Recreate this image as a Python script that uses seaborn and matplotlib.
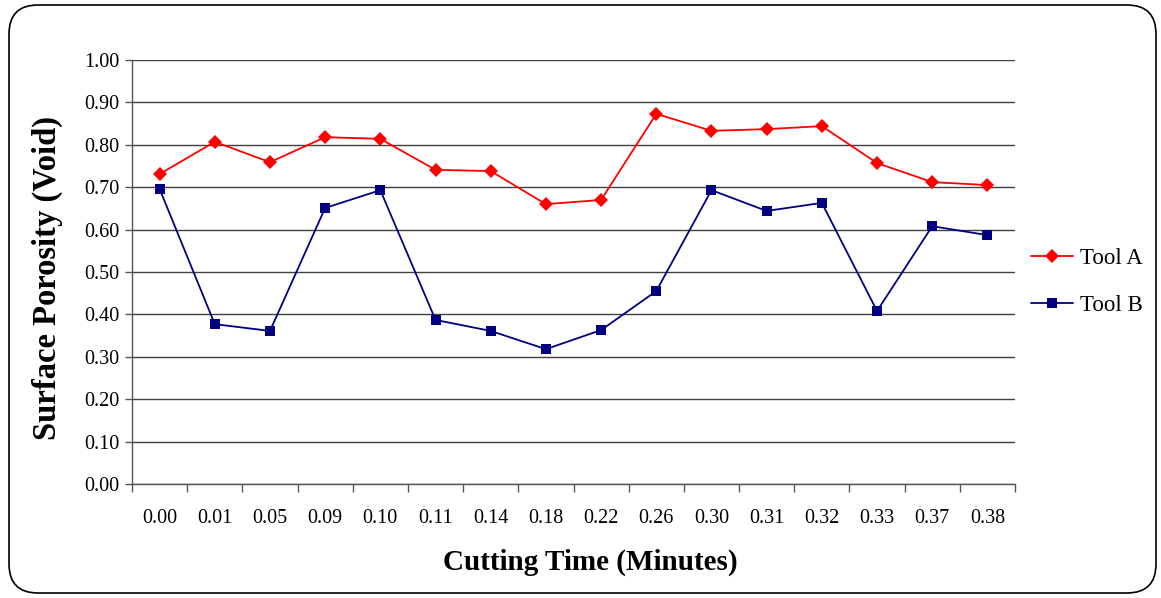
import matplotlib
matplotlib.use("Agg")
import matplotlib.pyplot as plt
import seaborn as sns
import pandas as pd
from matplotlib.patches import FancyBboxPatch
from matplotlib.lines import Line2D

times = ["0.00", "0.01", "0.05", "0.09", "0.10", "0.11", "0.14", "0.18",
         "0.22", "0.26", "0.30", "0.31", "0.32", "0.33", "0.37", "0.38"]
tool_a = [0.731, 0.807, 0.759, 0.818, 0.814, 0.741, 0.738, 0.660,
          0.670, 0.873, 0.833, 0.837, 0.844, 0.757, 0.712, 0.705]
tool_b = [0.696, 0.377, 0.361, 0.651, 0.693, 0.387, 0.361, 0.318,
          0.363, 0.455, 0.693, 0.644, 0.663, 0.408, 0.608, 0.587]
y_ticks = [0.0, 0.1, 0.2, 0.3, 0.4, 0.5, 0.6, 0.7, 0.8, 0.9, 1.0]

sns.set_theme(style="white")
plt.rcParams['font.family'] = ['Liberation Serif', 'DejaVu Serif']
plt.rcParams['text.color'] = 'black'
plt.rcParams['axes.labelcolor'] = 'black'
plt.rcParams['xtick.color'] = 'black'
plt.rcParams['ytick.color'] = 'black'

idx = list(range(len(times)))
df = pd.DataFrame({
    "pos": idx * 2,
    "value": tool_a + tool_b,
    "series": ["Tool A"] * len(times) + ["Tool B"] * len(times),
})

fig = plt.figure(figsize=(11.61, 5.98), dpi=100)
W, H = 1161, 598
ax = fig.add_axes([132 / W, 1 - 484 / H, (1015 - 132) / W, (484 - 60) / H])

sns.lineplot(data=df, x="pos", y="value", hue="series", style="series",
             markers={"Tool A": "D", "Tool B": "s"}, dashes=False,
             palette={"Tool A": "#FF0000", "Tool B": "#000080"},
             markersize=7, linewidth=1.3, markeredgewidth=0, ax=ax, legend=False)

ax.set_xlim(-0.5, len(times) - 0.5)
ax.set_ylim(0, 1.0)
ax.set_yticks(y_ticks)
ax.set_yticklabels([f"{v:.2f}" for v in y_ticks], fontsize=14.5)
ax.set_xticks(idx)
ax.set_xticklabels(times, fontsize=14.5)
ax.set_xticks([i - 0.5 for i in range(len(times) + 1)], minor=True)
ax.tick_params(axis="x", which="major", length=0, pad=18)
ax.tick_params(axis="x", which="minor", length=6, width=1, color="#555555", direction="out", bottom=True)
ax.tick_params(axis="y", length=5, width=1, color="#555555", direction="out", left=True, pad=4)
ax.yaxis.grid(True, color="#404040", linewidth=1)
ax.set_axisbelow(True)
for s in ["top", "right"]:
    ax.spines[s].set_visible(False)
for s in ["left", "bottom"]:
    ax.spines[s].set_color("#555555")
    ax.spines[s].set_linewidth(1)

ax.set_xlabel("Cutting Time (Minutes)", fontsize=21, fontweight="bold", labelpad=15)
ax.set_ylabel("Surface Porosity (Void)", fontsize=23.5, fontweight="bold", labelpad=15)
ax.xaxis.label.set_x(0.519)
ax.yaxis.label.set_y(0.487)

handles = [Line2D([], [], color="#FF0000", marker="D", markersize=7, markeredgewidth=0, linewidth=1.3),
           Line2D([], [], color="#000080", marker="s", markersize=7, markeredgewidth=0, linewidth=1.3)]
fig.legend(handles, ["Tool A", "Tool B"], loc="center left",
           bbox_to_anchor=(1010 / W, 1 - 282 / H), frameon=False, fontsize=16.5,
           handlelength=1.85, handletextpad=0.3, labelspacing=1.15)

border = FancyBboxPatch((9 / W, 5 / H), (1156 - 9) / W, (593 - 5) / H,
                        boxstyle="round,pad=0,rounding_size=0.025",
                        transform=fig.transFigure, fill=False, edgecolor="black",
                        linewidth=1.2, mutation_aspect=W / H)
fig.patches.append(border)

fig.savefig("out.png", dpi=100)
